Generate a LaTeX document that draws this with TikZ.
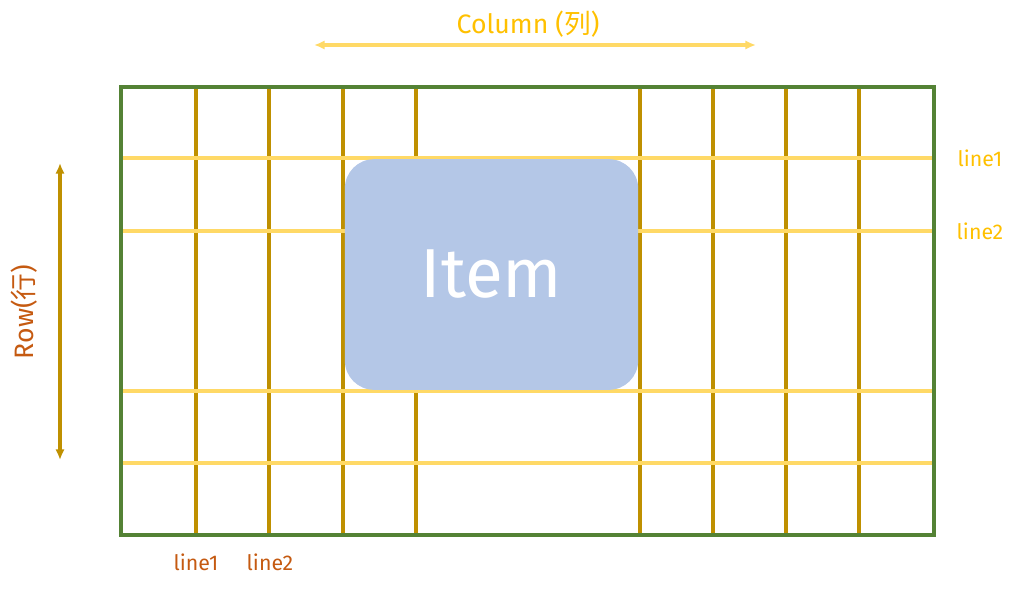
\documentclass[tikz,border=0pt]{standalone}
\usepackage{fontspec}
\setmainfont{Fira Sans}
\newfontfamily\cjk{Noto Sans CJK SC}
\usetikzlibrary{arrows.meta}
\definecolor{framegreen}{HTML}{548235}
\definecolor{darkgold}{HTML}{BF9000}
\definecolor{lightgold}{HTML}{FFD966}
\definecolor{labelgold}{HTML}{FFC000}
\definecolor{labelrust}{HTML}{C55A11}
\definecolor{itemblue}{HTML}{B4C7E7}
\begin{document}
\begin{tikzpicture}[x=0.75pt, y=-0.75pt,
    colline/.style={darkgold, line width=2.4pt},
    rowline/.style={lightgold, line width=2.4pt},
    itembox/.style={fill=itemblue, rounded corners=22pt, inner sep=0pt,
        minimum width=220pt, minimum height=173pt,
        text=white, font=\fontsize{52}{56}\selectfont},
    gridlabel/.style={font=\fontsize{16}{18}\selectfont}]
    \useasboundingbox (0,0) rectangle (1024,589);

    % Column lines (vertical)
    \foreach \x in {196,269,343,416,640,713,786,859}
        \draw[colline] (\x,87) -- (\x,535);

    % Row lines (horizontal)
    \foreach \y in {158,231,391,463}
        \draw[rowline] (121,\y) -- (934,\y);

    % Item spanning the grid cells
    \node (item) [itembox] at (491.5,274.5) {Item};

    % Grid container
    \draw[framegreen, line width=3.6pt] (121,87) rectangle (934,535);

    % Column direction
    \coordinate (colL) at (314,45);
    \coordinate (colR) at (756,45);
    \draw[{Latex[length=8pt,width=7pt]}-{Latex[length=8pt,width=7pt]}, lightgold, line width=2.4pt] (colL) -- (colR);
    \node (coltext) [labelgold, font=\fontsize{20}{24}\selectfont] at (528,24) {Column ({\cjk 列})};

    % Row direction
    \coordinate (rowT) at (60,163);
    \coordinate (rowB) at (60,460);
    \draw[{Latex[length=8pt,width=7pt]}-{Latex[length=8pt,width=7pt]}, darkgold, line width=2.4pt] (rowT) -- (rowB);
    \node (rowtext) [labelrust, rotate=90, font=\fontsize{20}{24}\selectfont] at (24,312) {Row({\cjk 行})};

    % Line numbers
    \node (rline1) [gridlabel, labelgold] at (980,158) {line1};
    \node (rline2) [gridlabel, labelgold] at (980,231) {line2};
    \node (cline1) [gridlabel, labelrust] at (196,562) {line1};
    \node (cline2) [gridlabel, labelrust] at (270,562) {line2};
\end{tikzpicture}
\end{document}
